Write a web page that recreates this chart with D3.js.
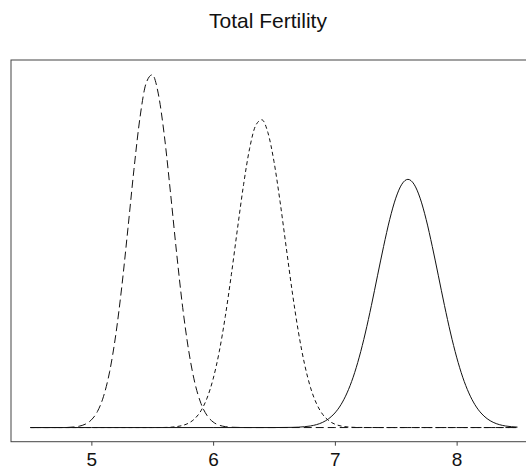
<!DOCTYPE html>
<html>
<head>
<meta charset="utf-8">
<script src="https://cdn.jsdelivr.net/npm/d3@7"></script>
<style>
  body { margin: 0; background: #fff; }
  svg { display: block; }
  text { font-family: "Liberation Sans", Arial, Helvetica, sans-serif; fill: #111; }
</style>
</head>
<body>
<svg id="chart" width="526" height="470"></svg>
<script>
// Density estimates of total fertility
const xTicks = [5, 6, 7, 8];

const longDashX = [4.5, 4.7, 4.8, 4.85, 4.9, 4.95, 5.0, 5.05, 5.1, 5.15, 5.2, 5.25, 5.3, 5.35, 5.4, 5.45,
  5.5, 5.55, 5.6, 5.65, 5.7, 5.75, 5.8, 5.85, 5.9, 5.95, 6.0, 6.05, 6.1, 6.15, 6.3, 6.5, 7.0, 7.5, 8.0, 8.5];
const longDashY = [0, 0, 0.0005, 0.0033, 0.0087, 0.0215, 0.0489, 0.1025, 0.199, 0.356, 0.589, 0.899, 1.267, 1.648, 1.981, 2.197,
  2.250, 2.128, 1.858, 1.497, 1.115, 0.766, 0.487, 0.285, 0.154, 0.077, 0.0355, 0.0151, 0.0059, 0.0022, 0, 0, 0, 0, 0, 0];

const shortDashX = [4.5, 5.0, 5.5, 5.6, 5.65, 5.7, 5.75, 5.8, 5.85, 5.9, 5.95, 6.0, 6.05, 6.1, 6.15, 6.2, 6.25, 6.3, 6.35,
  6.4, 6.45, 6.5, 6.55, 6.6, 6.65, 6.7, 6.75, 6.8, 6.85, 6.9, 6.95, 7.0, 7.05, 7.1, 7.2, 7.5, 8.0, 8.5];
const shortDashY = [0, 0, 0, 0.0006, 0.0021, 0.0061, 0.0136, 0.0288, 0.0572, 0.1067, 0.1877, 0.310, 0.483, 0.709, 0.977, 1.268, 1.549, 1.781, 1.927,
  1.963, 1.881, 1.696, 1.440, 1.151, 0.865, 0.612, 0.408, 0.255, 0.151, 0.0837, 0.0438, 0.0215, 0.0100, 0.0043, 0.0006, 0, 0, 0];

const solidX = [4.5, 5.0, 5.5, 6.0, 6.5, 6.65, 6.75, 6.8, 6.85, 6.9, 6.95, 7.0, 7.05, 7.1, 7.15, 7.2, 7.25, 7.3, 7.35, 7.4, 7.45, 7.5, 7.55,
  7.6, 7.65, 7.7, 7.75, 7.8, 7.85, 7.9, 7.95, 8.0, 8.05, 8.1, 8.15, 8.2, 8.25, 8.3, 8.35, 8.4, 8.45, 8.5];
const solidY = [0, 0, 0, 0, 0, 0.0012, 0.0054, 0.0102, 0.0189, 0.0334, 0.0568, 0.0929, 0.146, 0.221, 0.321, 0.449, 0.603, 0.779, 0.968, 1.155, 1.326, 1.463, 1.552,
  1.583, 1.552, 1.463, 1.326, 1.155, 0.968, 0.779, 0.603, 0.449, 0.321, 0.221, 0.146, 0.0929, 0.0568, 0.0334, 0.0189, 0.0102, 0.0054, 0.0028];

const series = [
  { xs: longDashX, ys: longDashY, dash: '8,4' },
  { xs: shortDashX, ys: shortDashY, dash: '4,3' },
  { xs: solidX, ys: solidY, dash: null }
];

const svg = d3.select('#chart');
const plot = { left: 11, top: 60, right: 537, bottom: 441.7 };

const x = d3.scaleLinear().domain([4.34, 8.66]).range([plot.left, plot.right]);
const y = d3.scaleLinear().domain([-0.0902, 2.3442]).range([plot.bottom, plot.top]);

// Title
svg.append('text')
  .attr('x', 268)
  .attr('y', 27.5)
  .attr('text-anchor', 'middle')
  .style('font-size', '21px')
  .text('Total Fertility');

// Frame
svg.append('rect')
  .attr('x', plot.left)
  .attr('y', plot.top)
  .attr('width', plot.right - plot.left)
  .attr('height', plot.bottom - plot.top)
  .attr('fill', 'none')
  .attr('stroke', '#444')
  .attr('stroke-width', 1);

// Curves
const line = d3.line()
  .x(d => x(d[0]))
  .y(d => y(d[1]))
  .curve(d3.curveMonotoneX);

series.forEach(s => {
  svg.append('path')
    .datum(s.xs.map((v, i) => [v, s.ys[i]]))
    .attr('fill', 'none')
    .attr('stroke', '#111')
    .attr('stroke-width', 1)
    .attr('stroke-dasharray', s.dash)
    .attr('d', line);
});

// X axis
const axis = d3.axisBottom(x)
  .tickValues(xTicks)
  .tickSize(4)
  .tickPadding(7)
  .tickFormat(d3.format('d'));

const gAxis = svg.append('g')
  .attr('transform', `translate(0,${plot.bottom})`)
  .call(axis);
gAxis.select('.domain').remove();
gAxis.selectAll('line').attr('stroke', '#444');
gAxis.selectAll('text')
  .style('font-size', '19px')
  .attr('fill', '#111')
  .style('font-family', '"Liberation Sans", Arial, sans-serif');
</script>
</body>
</html>
